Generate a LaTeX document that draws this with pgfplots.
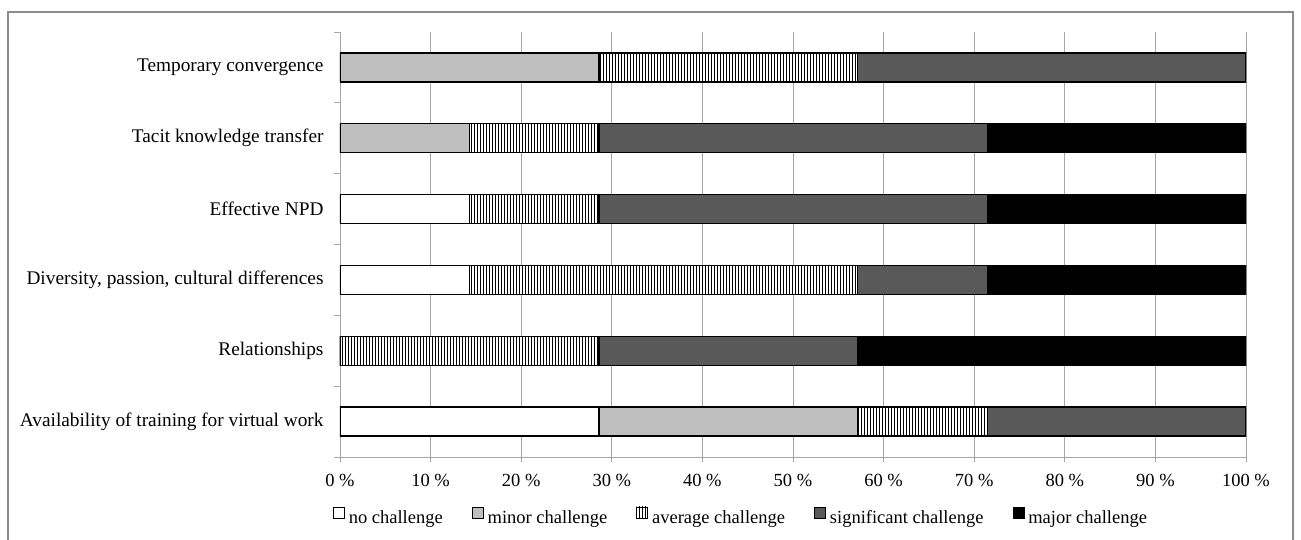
\documentclass[border=0pt]{standalone}
\usepackage{fontspec}
\setmainfont{Liberation Serif}
\usepackage{pgfplots}
\pgfplotsset{compat=1.18}
\usetikzlibrary{patterns.meta}

\newcommand\chartfont{\fontsize{18.5bp}{22bp}\selectfont}
\newcommand\catfont{\fontsize{19.3bp}{23bp}\selectfont}
\definecolor{gridgray}{HTML}{A6A6A6}
\definecolor{minorfill}{HTML}{BFBFBF}
\definecolor{sigfill}{HTML}{595959}
\definecolor{framegray}{HTML}{8C8C8C}

\begin{document}
\begin{tikzpicture}[x=1bp,y=1bp]
\useasboundingbox (-340,-83) rectangle (961,457);
% chart frame (open at the bottom)
\draw[framegray, line width=1.5bp] (-332,-95) -- (-332,445) -- (953,445) -- (953,-95);
\begin{axis}[
  at={(0,0)}, anchor=south west,
  scale only axis, width=906bp, height=425bp,
  xbar stacked, bar width=29bp,
  xmin=0, xmax=100, ymin=-0.5, ymax=5.5,
  axis x line*=bottom, axis y line*=left,
  axis line style={gridgray, line width=0.8bp},
  xtick={0,10,...,100},
  xticklabels={0 \%,10 \%,20 \%,30 \%,40 \%,50 \%,60 \%,70 \%,80 \%,90 \%,100 \%},
  ytick={0,...,5},
  yticklabels={Availability of training for virtual work, Relationships,
    {Diversity, passion, cultural differences}, Effective NPD,
    Tacit knowledge transfer, Temporary convergence},
  minor ytick={-0.5,0.5,...,5.5},
  tick align=outside,
  major tick length=5bp, minor tick length=6bp,
  tick style={gridgray, line width=0.8bp},
  every major y tick/.append style={draw=none},
  xmajorgrids, major grid style={gridgray, line width=0.8bp},
  xticklabel style={font=\chartfont, yshift=-9bp},
  yticklabel style={font=\catfont, xshift=-8bp},
  legend style={at={(axis description cs:0.4426,-0.141)}, anchor=center,
    draw=none, font=\chartfont, inner sep=0pt,
    /tikz/every even column/.append style={column sep=27bp},
    /tikz/every odd column/.append style={column sep=2bp},
    nodes={inner sep=2bp}},
  legend columns=5,
  legend image code/.code={\draw[#1, line width=0.8bp] (0bp,0bp) rectangle (11bp,11bp);},
]
% categories bottom to top: Availability, Relationships, Diversity, Effective NPD, Tacit, Temporary
\addplot[fill=white, draw=black, line width=1.3bp]
  coordinates {(28.571,0) (0,1) (14.286,2) (14.286,3) (0,4) (0,5)};
\addplot[fill=minorfill, draw=black, line width=1.3bp]
  coordinates {(28.571,0) (0,1) (0,2) (0,3) (14.286,4) (28.571,5)};
\addplot[fill=white, draw=black, line width=1.3bp,
  postaction={pattern={Lines[angle=90,distance=3bp,line width=0.8bp]}}]
  coordinates {(14.286,0) (28.571,1) (42.857,2) (14.286,3) (14.286,4) (28.571,5)};
\addplot[fill=sigfill, draw=black, line width=1.3bp]
  coordinates {(28.571,0) (28.571,1) (14.286,2) (42.857,3) (42.857,4) (42.857,5)};
\addplot[fill=black, draw=black, line width=1.3bp]
  coordinates {(0,0) (42.857,1) (28.571,2) (28.571,3) (28.571,4) (0,5)};
\legend{no challenge, minor challenge, average challenge, significant challenge, major challenge}
\end{axis}
\end{tikzpicture}
\end{document}
